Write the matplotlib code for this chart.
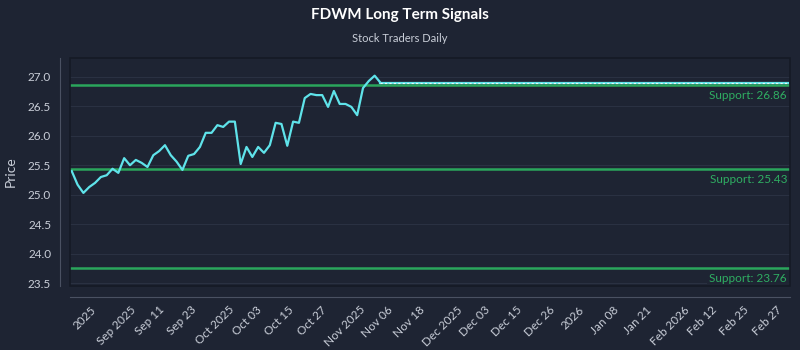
import matplotlib
matplotlib.use("Agg")
import matplotlib.pyplot as plt
import matplotlib.transforms as mtransforms
import numpy as np
from matplotlib.patches import Rectangle

# ---- data ----
history = [25.40, 25.17, 25.03, 25.13, 25.20, 25.30, 25.33, 25.44, 25.37, 25.62,
           25.50, 25.59, 25.54, 25.47, 25.67, 25.74, 25.84, 25.67, 25.56, 25.42,
           25.66, 25.69, 25.81, 26.05, 26.05, 26.18, 26.15, 26.24, 26.24, 25.52,
           25.81, 25.64, 25.81, 25.71, 25.84, 26.22, 26.20, 25.83, 26.24, 26.22,
           26.64, 26.71, 26.69, 26.69, 26.49, 26.76, 26.54, 26.54, 26.49, 26.35,
           26.81, 26.93, 27.02, 26.90]
forecast_value = 26.90
forecast_len = 71
supports = [26.86, 25.43, 23.76]
tick_labels = ["2025", "Sep 2025", "Sep 11", "Sep 23", "Oct 2025", "Oct 03", "Oct 15",
               "Oct 27", "Nov 2025", "Nov 06", "Nov 18", "Dec 2025", "Dec 03", "Dec 15",
               "Dec 26", "2026", "Jan 08", "Jan 21", "Feb 2026", "Feb 12", "Feb 25",
               "Feb 27"]
title = "FDWM Long Term Signals"
subtitle = "Stock Traders Daily"

# ---- style ----
BG = "#1e2433"
TXT = "#c9ced8"
CYAN = "#5fe3ea"
GREEN = "#2aa65c"
GREEN_TXT = "#2fae62"
GRID = "#2a3142"
plt.rcParams['font.family'] = ['Lato', 'DejaVu Sans']

fig = plt.figure(figsize=(8, 3.5), dpi=100, facecolor=BG)
ax = fig.add_axes([70/800, 1 - 286/350, 720/800, 228/350])
ax.set_facecolor(BG)

n_hist = len(history)
x_hist = np.arange(n_hist)
forecast = [forecast_value] * forecast_len
x_fc = np.arange(n_hist - 1, n_hist - 1 + forecast_len)
N = n_hist - 1 + forecast_len

shift = mtransforms.ScaledTranslation(0, -5/100, fig.dpi_scale_trans)
for s in supports:
    ax.axhline(s, color=GREEN, lw=1.8, zorder=2)
    ax.text(1 - 3/720, s, f"Support: {s:.2f}",
            transform=ax.get_yaxis_transform() + shift,
            ha="right", va="top", color=GREEN_TXT, fontsize=8.5,
            bbox=dict(facecolor=BG, edgecolor="none", pad=1.5, alpha=0.0 if s > 24 else 0.9),
            zorder=4)

ax.plot(x_hist, history, color=CYAN, lw=1.6, zorder=3)
ax.plot(x_fc, forecast, color=CYAN, lw=1.6, zorder=3)
ax.plot(x_fc, forecast, color="#e8f6f8", lw=0.8, ls=(0, (2, 2)), zorder=3)

ax.set_xlim(-0.3, N - 1 + 0.3)
ax.set_ylim(23.45, 27.32)
ax.set_yticks([23.5, 24.0, 24.5, 25.0, 25.5, 26.0, 26.5, 27.0])
ax.yaxis.set_major_formatter(matplotlib.ticker.FormatStrFormatter("%.1f"))
ax.grid(axis="y", color=GRID, lw=0.8)
ax.set_axisbelow(True)

tick_pos = np.linspace(2.2, N - 1 - 3.6, len(tick_labels))
ax.set_xticks(tick_pos)
ax.set_xticklabels(tick_labels)
ax.tick_params(axis="both", length=0, colors=TXT, labelsize=8.5)
ax.tick_params(axis="x", pad=5, labelrotation=45)
ax.tick_params(axis="y", pad=6)
for lbl in ax.get_xticklabels():
    lbl.set_ha("right")
    lbl.set_va("top")
    lbl.set_rotation_mode("anchor")

for side in ["top", "right"]:
    ax.spines[side].set_visible(False)
ax.spines["left"].set_position(("outward", 7.5))
ax.spines["bottom"].set_position(("outward", 8))
ax.spines["left"].set_color("#4a5162")
ax.spines["bottom"].set_color("#4a5162")
ax.spines["left"].set_linewidth(0.8)
ax.spines["bottom"].set_linewidth(0.8)

ax.add_patch(Rectangle((0, 0), 1, 1, transform=ax.transAxes, fill=False,
                       edgecolor="#151a25", lw=1.2, zorder=5, clip_on=False))

ax.set_ylabel("Price", color=TXT, fontsize=10, labelpad=8)

fig.text(0.5, 1 - 15/350, title, ha="center", va="center", color="white",
         fontsize=11, fontweight="bold")
fig.text(0.5, 1 - 38/350, subtitle, ha="center", va="center", color=TXT, fontsize=8)

fig.savefig("out.png", dpi=100, facecolor=BG)
